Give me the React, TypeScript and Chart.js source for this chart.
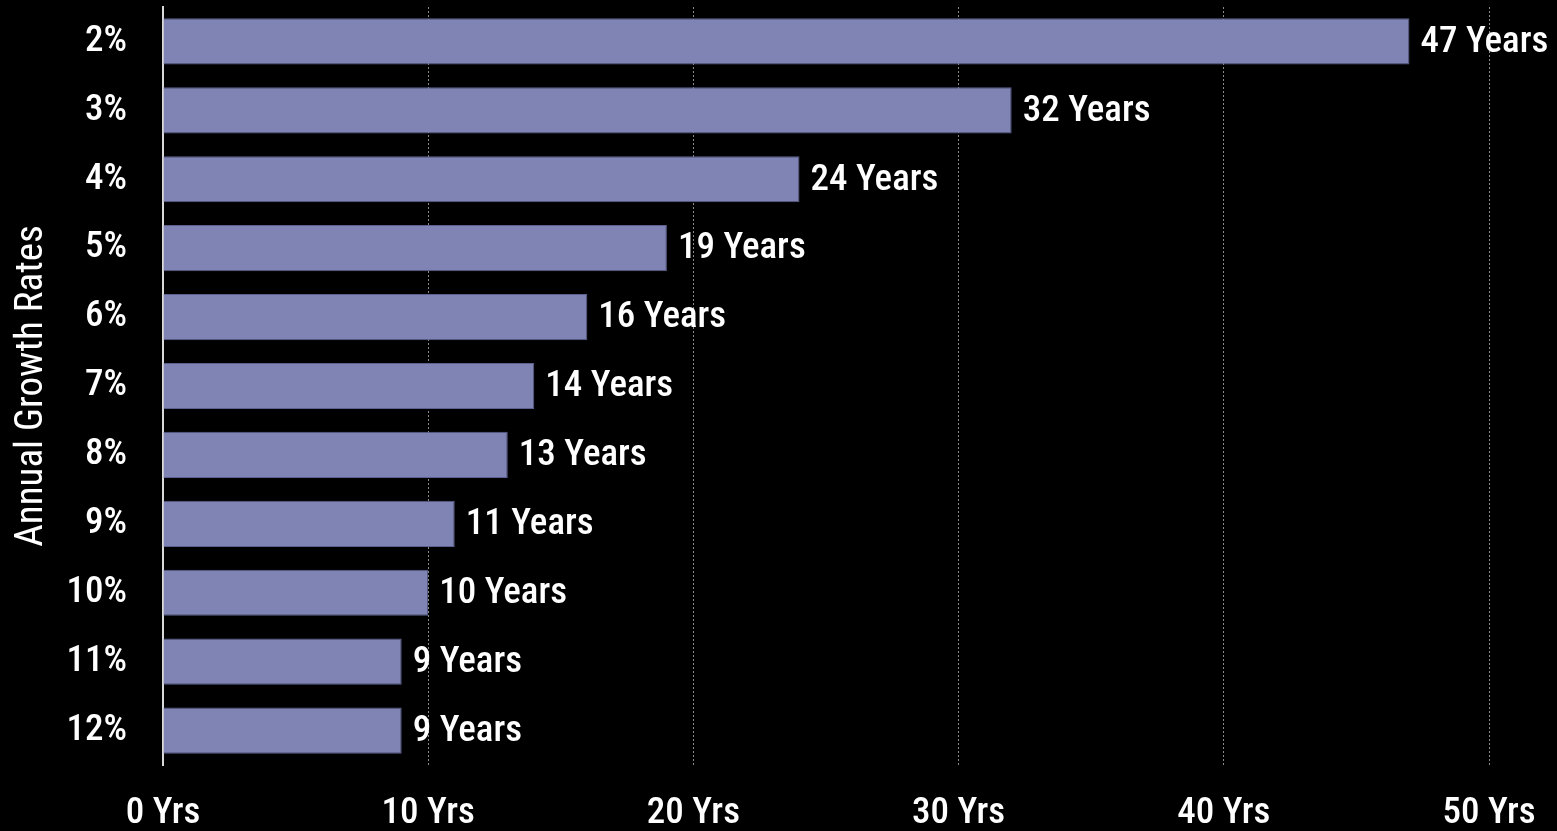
import React, { useEffect, useRef } from "react";
import { Chart, registerables } from "chart.js";

Chart.register(...registerables);

const categories = ["2%", "3%", "4%", "5%", "6%", "7%", "8%", "9%", "10%", "11%", "12%"];
const yearsToDouble = [47, 32, 24, 19, 16, 14, 13, 11, 10, 9, 9];
const xTickValues = [0, 10, 20, 30, 40, 50];
const yAxisTitle = "Annual Growth Rates";

const FONT = "'Roboto Condensed', 'Open Sans Condensed', 'DejaVu Sans Condensed', sans-serif";
const SIZE = 37;
const WEIGHT = "500";

const dataLabelPlugin = {
  id: "dataLabels",
  afterDatasetsDraw(chart: any) {
    const ctx = chart.ctx;
    const meta = chart.getDatasetMeta(0);
    ctx.save();
    ctx.fillStyle = "#ffffff";
    ctx.font = `${WEIGHT} ${SIZE}px ${FONT}`;
    ctx.textAlign = "left";
    ctx.textBaseline = "middle";
    meta.data.forEach((bar: any, i: number) => {
      const v = chart.data.datasets[0].data[i];
      ctx.fillText(`${v} Years`, bar.x + 11, bar.y + 1);
    });
    ctx.restore();
  },
};

function zeroPad(scale: any) {
  scale.paddingTop = 0;
  scale.paddingBottom = 0;
  scale.paddingLeft = 0;
  scale.paddingRight = 0;
}

export default function App() {
  const ref = useRef<HTMLCanvasElement>(null);
  useEffect(() => {
    if (!ref.current) return;
    const chart = new Chart(ref.current, {
      type: "bar",
      data: {
        labels: categories,
        datasets: [
          {
            data: yearsToDouble,
            backgroundColor: "#7f84b4",
            borderColor: "#5d618f",
            borderWidth: 1,
            barPercentage: 0.67,
            categoryPercentage: 1,
          },
        ],
      },
      options: {
        indexAxis: "y",
        animation: false,
        responsive: false,
        layout: { padding: { top: 7, right: 68, left: 0, bottom: 0 } },
        plugins: { legend: { display: false }, tooltip: { enabled: false } },
        scales: {
          x: {
            min: 0,
            max: 50,
            afterFit(scale: any) {
              scale.height = 66;
              zeroPad(scale);
            },
            afterBuildTicks(scale: any) {
              scale.ticks = xTickValues.map((v) => ({ value: v }));
            },
            grid: {
              display: true,
              color: (c: any) => (c.tick && c.tick.value === 0 ? "rgba(0,0,0,0)" : "#8a8a8a"),
              lineWidth: 1,
              drawTicks: false,
            },
            border: { display: false, dash: [2, 2] },
            ticks: {
              color: "#ffffff",
              padding: 27,
              font: { family: FONT, size: SIZE, weight: WEIGHT },
              callback: (v: any) => `${v} Yrs`,
              maxRotation: 0,
              autoSkip: false,
            },
          },
          y: {
            afterFit(scale: any) {
              scale.width = 163;
              zeroPad(scale);
            },
            grid: { display: false },
            border: { display: true, color: "#d9d9d9", width: 2 },
            ticks: {
              color: "#ffffff",
              padding: 28,
              font: { family: FONT, size: SIZE, weight: WEIGHT },
              autoSkip: false,
            },
            title: {
              display: true,
              text: yAxisTitle,
              color: "#ffffff",
              font: { family: FONT, size: 39, weight: "normal" },
              padding: { top: 9, bottom: 0 },
            },
          },
        },
      },
      plugins: [dataLabelPlugin],
    });
    return () => chart.destroy();
  }, []);
  return (
    <div style={{ position: "fixed", left: 0, top: 0, width: 1557, height: 831, background: "#000" }}>
      <canvas ref={ref} width={1557} height={831} style={{ display: "block" }} />
    </div>
  );
}
